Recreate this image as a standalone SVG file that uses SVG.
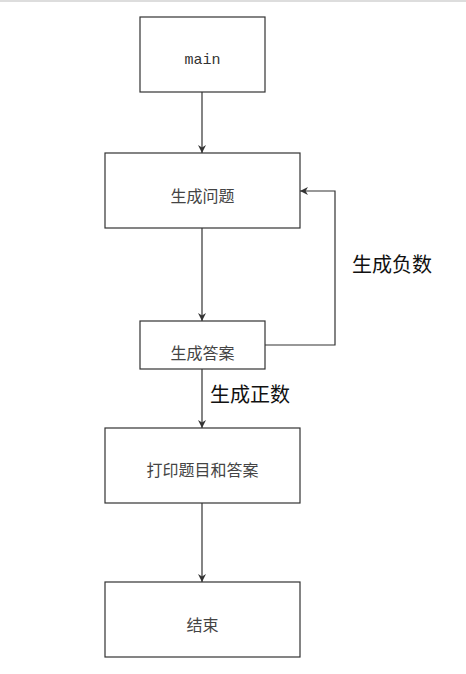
<svg xmlns="http://www.w3.org/2000/svg" width="466" height="674" viewBox="0 0 466 674">
<defs>
<marker id="arr" viewBox="0 0 10 10" refX="10" refY="5" markerWidth="8" markerHeight="8" markerUnits="userSpaceOnUse" orient="auto">
<path d="M0,0 L10,5 L0,10 L3,5 Z" fill="#333"/>
</marker>
<style>
.box{fill:#fff;stroke:#333;stroke-width:1.2}
.t{font-family:"Noto Sans CJK SC","Noto Sans",sans-serif;font-size:16px;fill:#444;text-anchor:middle;dominant-baseline:central}
.m{font-family:"Liberation Mono",monospace;font-size:15px;fill:#333;text-anchor:middle;dominant-baseline:central}
.lbl{font-family:"Noto Sans CJK SC","Noto Sans",sans-serif;font-size:20px;fill:#111}
.c{fill:none;stroke:#333;stroke-width:1.2}
</style>
</defs>
<rect width="466" height="674" fill="#fff"/>
<line x1="0" y1="1" x2="466" y2="1" stroke="#ddd" stroke-width="2"/>
<g id="connectors">
<path class="c" d="M202,92 V153" marker-end="url(#arr)"/>
<path class="c" d="M202,228 V321" marker-end="url(#arr)"/>
<path class="c" d="M265,345 H335 V191 H300" marker-end="url(#arr)"/>
<path class="c" d="M202,369 V428" marker-end="url(#arr)"/>
<path class="c" d="M202,503 V582" marker-end="url(#arr)"/>
<text class="lbl" x="352" y="272">生成负数</text>
<text class="lbl" x="210" y="402">生成正数</text>
</g>
<g id="main"><rect class="box" x="140" y="17" width="125" height="75"/><text class="m" x="202.5" y="60">main</text></g>
<g id="gen-question"><rect class="box" x="105" y="153" width="195" height="75"/><text class="t" x="202.5" y="195">生成问题</text></g>
<g id="gen-answer"><rect class="box" x="140" y="321" width="125" height="48"/><text class="t" x="202.5" y="352">生成答案</text></g>
<g id="print"><rect class="box" x="105" y="428" width="195" height="75"/><text class="t" x="202.5" y="469">打印题目和答案</text></g>
<g id="end"><rect class="box" x="105" y="582" width="195" height="75"/><text class="t" x="202.5" y="624">结束</text></g>
</svg>
